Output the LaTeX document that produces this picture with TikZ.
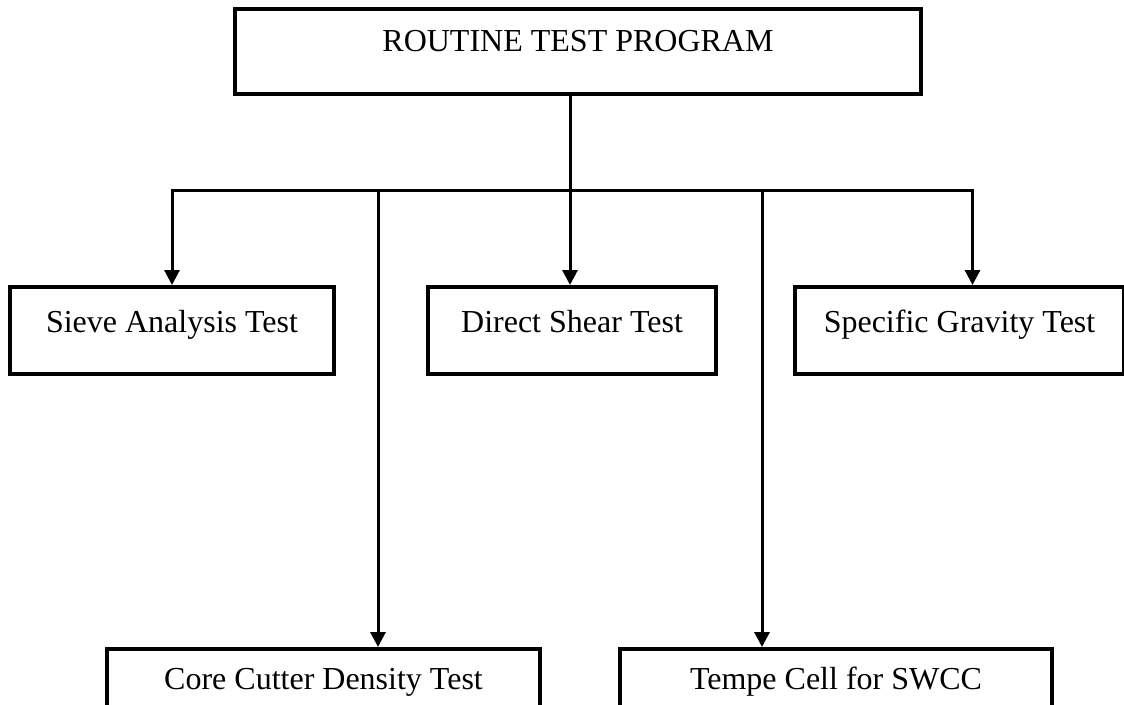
\documentclass[tikz,border=0pt]{standalone}
\usepackage{fontspec}
\setmainfont{Liberation Serif}
\usetikzlibrary{arrows.meta}

\tikzset{
  testbox/.style={draw=black, line width=4pt, rectangle, inner xsep=0pt, inner ysep=0pt,
    font=\fontsize{32}{38}\selectfont, text height=45pt, text depth=42pt},
  conn/.style={draw=black, line width=3pt},
  arr/.style={conn, -{Triangle[width=15pt,length=15pt]}},
}

\begin{document}
\begin{tikzpicture}[x=1pt, y=-1pt]
  \useasboundingbox (0,0) rectangle (1124,704);
  \clip (0,0) rectangle (1124,704);

  % top box
  \node[testbox, anchor=north west, minimum width=686pt, text height=42pt, text depth=43pt]
    (top) at (233,7) {ROUTINE TEST PROGRAM};

  % first row of tests
  \node[testbox, anchor=north west, minimum width=324pt] (sieve) at (8,285) {Sieve Analysis Test};
  \node[testbox, anchor=north west, minimum width=288pt] (shear) at (426,285) {Direct Shear Test};
  \node[testbox, anchor=north west, minimum width=329pt] (grav) at (793,285) {Specific Gravity Test};

  % second row of tests
  \node[testbox, anchor=north west, minimum width=433pt, text height=40pt, text depth=47pt]
    (core) at (105,647) {Core Cutter Density Test};
  \node[testbox, anchor=north west, minimum width=432pt, text height=40pt, text depth=47pt]
    (tempe) at (618,647) {Tempe Cell for SWCC};

  % distribution line
  \coordinate (hub) at (570,190);
  \coordinate (cc) at (378,190);
  \coordinate (tc) at (762,190);

  \draw[conn] (top.south -| hub) -- (hub);
  \draw[arr] (hub) -| (sieve.north);
  \draw[arr] (hub) -| ([xshift=13pt]grav.north);
  \draw[arr] (hub) -- (hub |- shear.north);
  \draw[arr] (cc) -- (cc |- core.north);
  \draw[arr] (tc) -- (tc |- tempe.north);
\end{tikzpicture}
\end{document}
